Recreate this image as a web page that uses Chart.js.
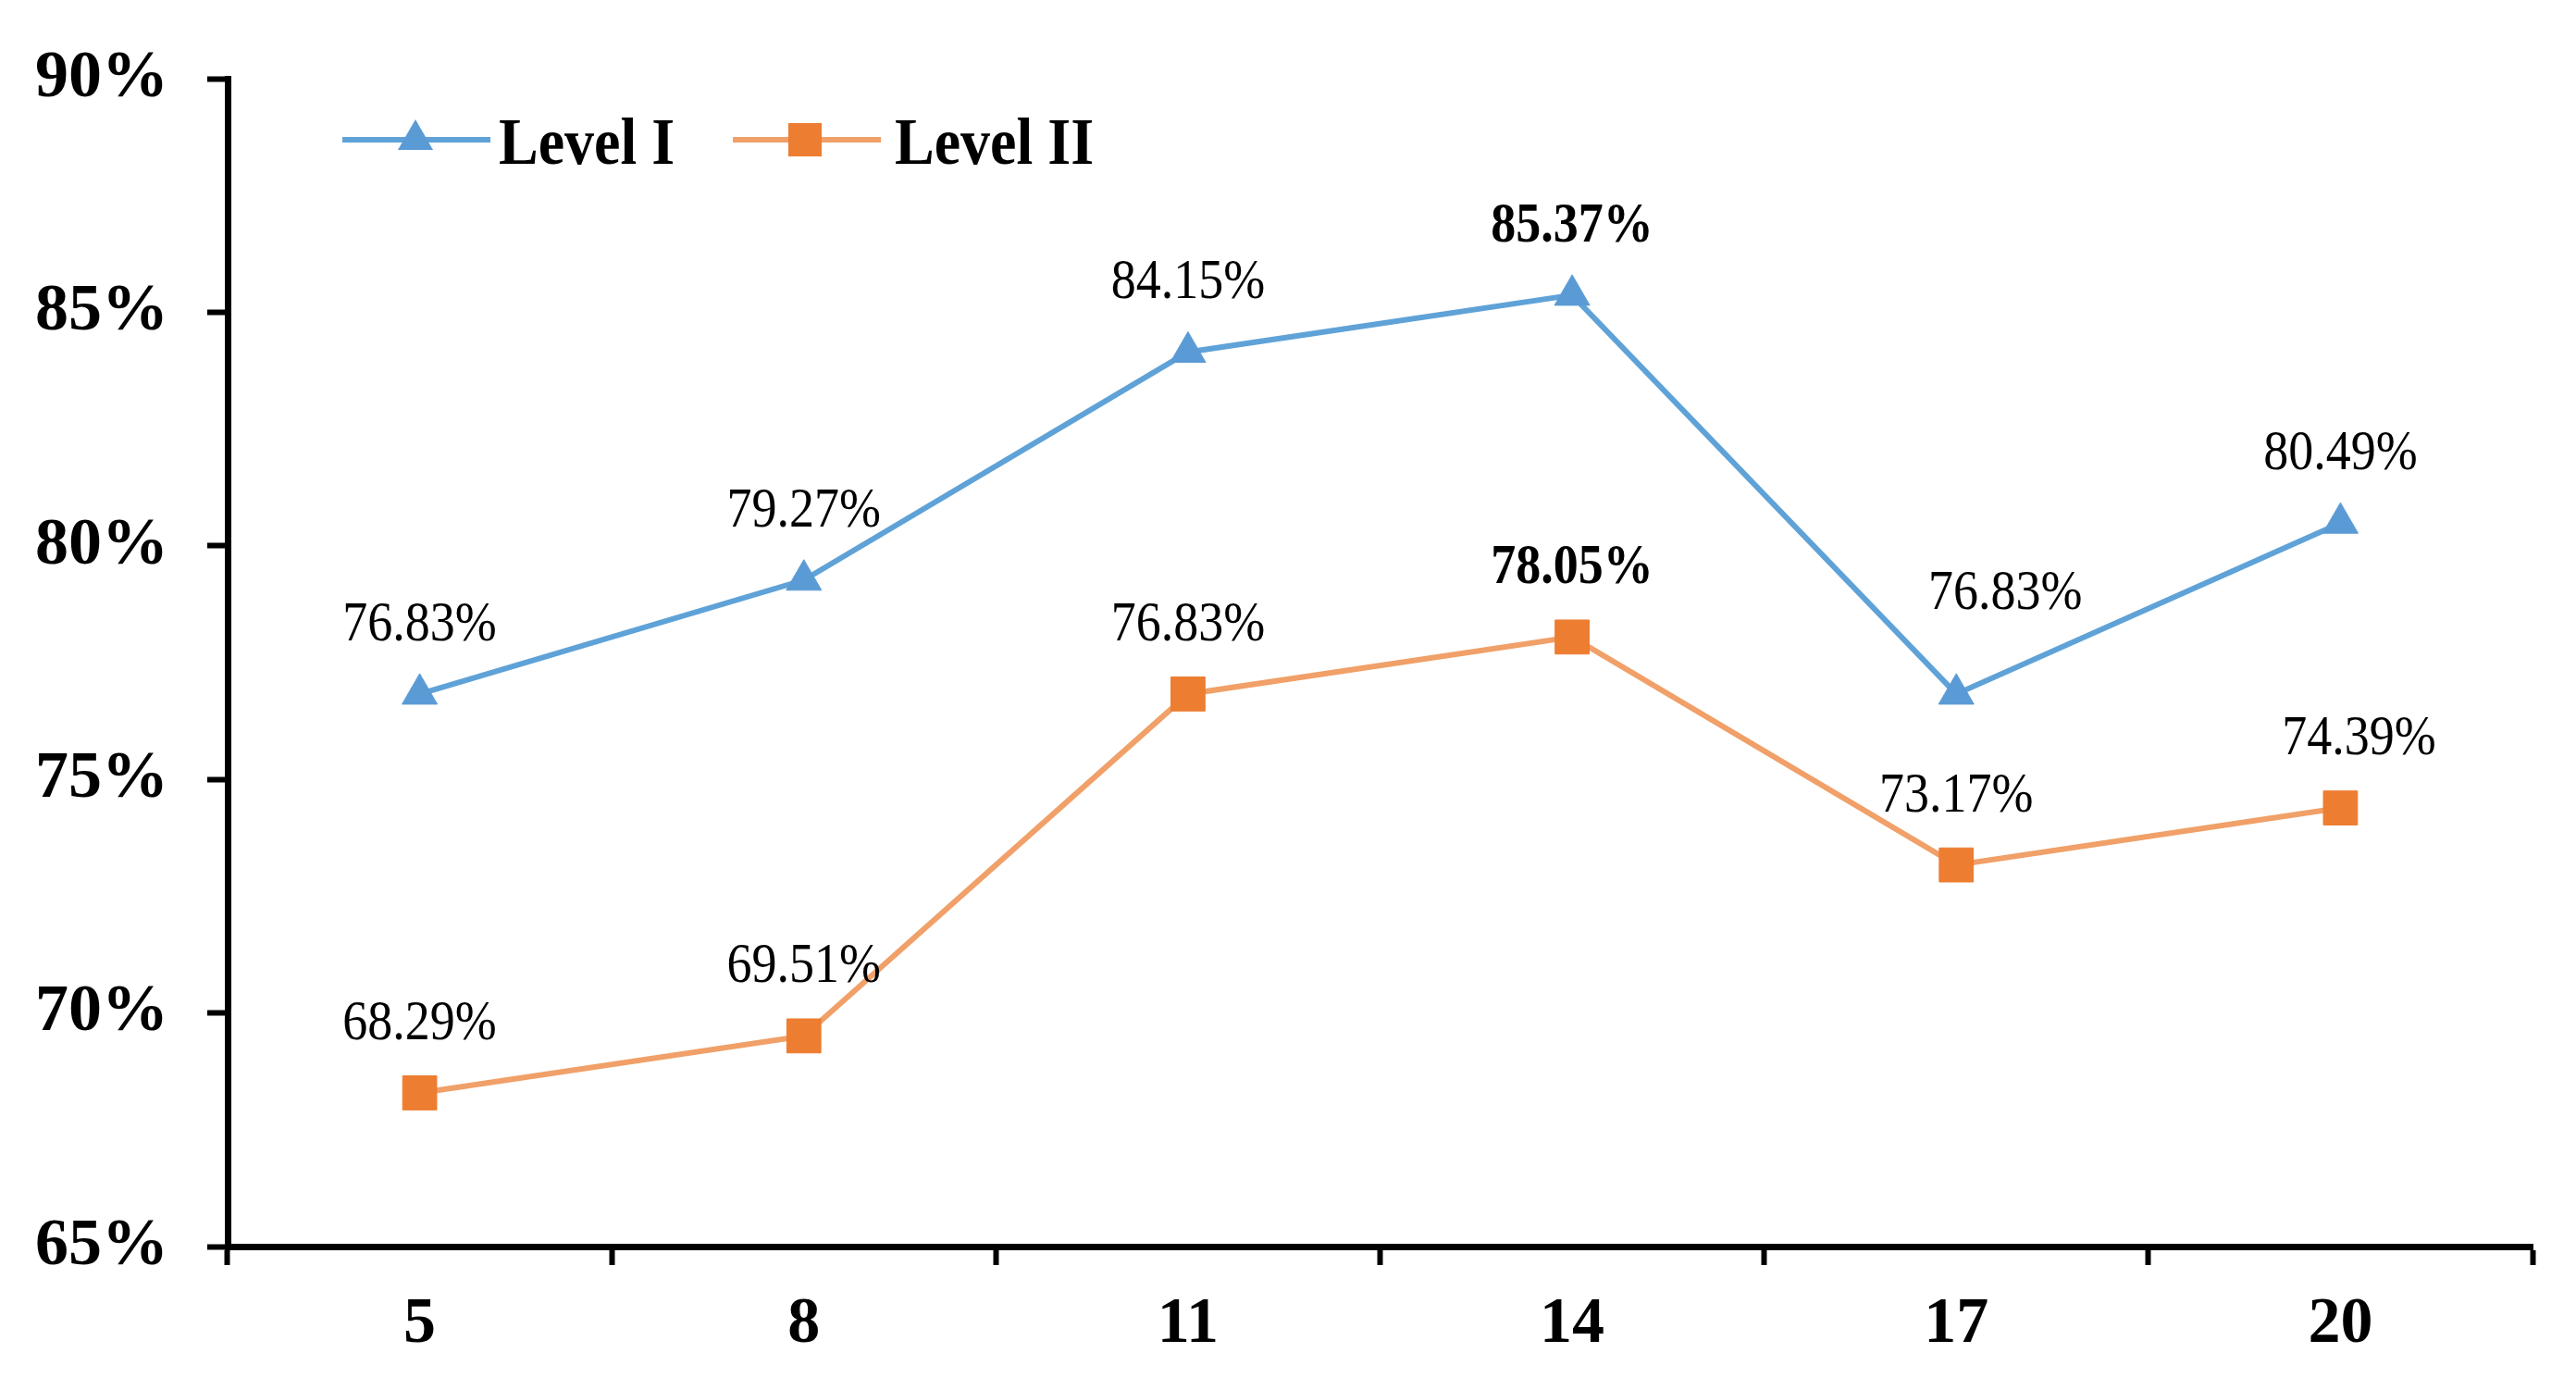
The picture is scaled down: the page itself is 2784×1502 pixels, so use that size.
<!DOCTYPE html>
<html>
<head>
<meta charset="utf-8">
<script src="https://cdn.jsdelivr.net/npm/chart.js@4.4.1/dist/chart.umd.min.js"></script>
<style>
  html, body { margin: 0; padding: 0; background: #ffffff; }
  #wrap { width: 2784px; height: 1502px; }
</style>
</head>
<body>
<div id="wrap"><canvas id="c" width="2784" height="1502"></canvas></div>
<script>
const categories = ['5', '8', '11', '14', '17', '20'];
const levelI = [76.83, 79.27, 84.15, 85.37, 76.83, 80.49];
const levelII = [68.29, 69.51, 76.83, 78.05, 73.17, 74.39];
const seriesNames = ['Level I', 'Level II'];
const yMin = 65, yMax = 90, yStep = 5;

const BLUE = '#5B9BD5';
const BLUE_LINE = '#5FA2D7';
const ORANGE = '#ED7D31';
const ORANGE_LINE = '#F0A068';
const SERIF = '"Liberation Serif", "Times New Roman", serif';

function stretchedText(ctx, text, x, y, sy) {
  ctx.save();
  ctx.translate(x, y);
  ctx.scale(1, sy);
  ctx.fillText(text, 0, 0);
  ctx.restore();
}

const dataLabels = {
  id: 'dataLabels',
  afterDatasetsDraw(chart) {
    const ctx = chart.ctx;
    ctx.save();
    ctx.fillStyle = '#000';
    ctx.textAlign = 'center';
    ctx.textBaseline = 'alphabetic';
    const shifts = { '0-4': [53, -34], '1-5': [20, 0] };
    chart.data.datasets.forEach((ds, di) => {
      const meta = chart.getDatasetMeta(di);
      meta.data.forEach((pt, i) => {
        const bold = i === 3;
        ctx.font = (bold ? 'bold ' : '') + '54px ' + SERIF;
        const s = shifts[di + '-' + i] || [0, 0];
        stretchedText(ctx, ds.data[i].toFixed(2) + '%', pt.x + s[0], pt.y - 58 + s[1], 1.15);
      });
    });
    ctx.restore();
  }
};

const customLegend = {
  id: 'customLegend',
  afterDraw(chart) {
    const ctx = chart.ctx;
    ctx.save();
    const y = 151;
    const items = [
      { x0: 370, x1: 530, mx: 449, tx: 539, line: BLUE_LINE, fill: BLUE, shape: 'tri' },
      { x0: 792, x1: 952, mx: 870, tx: 967, line: ORANGE_LINE, fill: ORANGE, shape: 'rect' }
    ];
    items.forEach((it, k) => {
      ctx.strokeStyle = it.line;
      ctx.lineWidth = 6;
      ctx.beginPath();
      ctx.moveTo(it.x0, y);
      ctx.lineTo(it.x1, y);
      ctx.stroke();
      ctx.fillStyle = it.fill;
      ctx.beginPath();
      if (it.shape === 'tri') {
        const r = 22;
        ctx.moveTo(it.mx, y - r);
        ctx.lineTo(it.mx + r * 0.866, y + r * 0.5);
        ctx.lineTo(it.mx - r * 0.866, y + r * 0.5);
        ctx.closePath();
      } else {
        ctx.rect(it.mx - 18, y - 18, 36, 36);
      }
      ctx.fill();
      ctx.fillStyle = '#000';
      ctx.font = 'bold 64px ' + SERIF;
      ctx.textAlign = 'left';
      ctx.textBaseline = 'alphabetic';
      stretchedText(ctx, seriesNames[k], it.tx, 177, 1.12);
    });
    ctx.restore();
  }
};

new Chart(document.getElementById('c'), {
  type: 'line',
  data: {
    labels: categories,
    datasets: [
      {
        label: seriesNames[0],
        data: levelI,
        borderColor: BLUE_LINE,
        backgroundColor: BLUE,
        borderWidth: 6,
        pointStyle: 'triangle',
        pointRadius: 22,
        pointBackgroundColor: BLUE,
        pointBorderColor: BLUE,
        pointBorderWidth: 1,
        tension: 0,
        fill: false
      },
      {
        label: seriesNames[1],
        data: levelII,
        borderColor: ORANGE_LINE,
        backgroundColor: ORANGE,
        borderWidth: 6,
        pointStyle: 'rect',
        pointRadius: 26,
        pointBackgroundColor: ORANGE,
        pointBorderColor: ORANGE,
        pointBorderWidth: 1,
        tension: 0,
        fill: false
      }
    ]
  },
  options: {
    responsive: false,
    devicePixelRatio: 1,
    animation: false,
    layout: { padding: { top: 80, right: 47, bottom: 0, left: 0 } },
    plugins: {
      legend: { display: false },
      tooltip: { enabled: false },
      title: { display: false }
    },
    scales: {
      x: {
        type: 'category',
        offset: true,
        grid: {
          display: true,
          offset: true,
          drawOnChartArea: false,
          drawTicks: true,
          tickLength: 20,
          tickWidth: 6,
          tickColor: '#000'
        },
        border: { display: true, color: '#000', width: 7 },
        ticks: {
          color: '#000',
          padding: 23,
          font: { family: SERIF, size: 70, weight: 'bold' },
          maxRotation: 0
        },
        afterFit(scale) { scale.height = 155; }
      },
      y: {
        min: yMin,
        max: yMax,
        grid: {
          display: true,
          drawOnChartArea: false,
          drawTicks: true,
          tickLength: 22,
          tickWidth: 6,
          tickColor: '#000'
        },
        border: { display: true, color: '#000', width: 7 },
        ticks: {
          stepSize: yStep,
          color: '#000',
          padding: 42,
          font: { family: SERIF, size: 72, weight: 'bold' },
          callback: (v) => v + '%'
        },
        afterFit(scale) { scale.width = 246; }
      }
    }
  },
  plugins: [dataLabels, customLegend]
});
</script>
</body>
</html>
